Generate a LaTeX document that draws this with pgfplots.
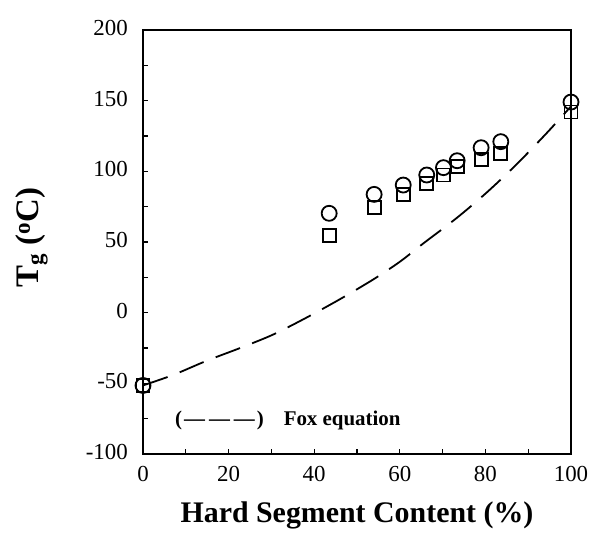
\documentclass[border=0pt]{standalone}
\usepackage{pgfplots}
\pgfplotsset{compat=1.18}
\usepackage{fontspec}
\setmainfont{Liberation Serif}
\begin{document}
\begin{tikzpicture}
\useasboundingbox (-143bp,-81bp) rectangle (447bp,454bp);
\begin{axis}[
  scale only axis, width=428bp, height=424bp,
  xmin=0, xmax=100, ymin=-100, ymax=200,
  axis line style={line width=1.6bp},
  xtick={0,20,...,100}, ytick={-100,-50,...,200},
  minor x tick num=1, minor y tick num=1,
  tick align=inside, xtick pos=bottom, ytick pos=left,
  major tick length=5bp, minor tick length=5bp,
  every tick/.style={black, line width=1.2bp},
  tick label style={font=\fontsize{23}{23}\selectfont},
  /pgf/number format/assume math mode=true,
  xticklabel style={anchor=base, yshift=-27bp},
  yticklabel style={anchor=east, inner sep=0pt, xshift=-15bp, yshift=2bp},
  xlabel={Hard Segment Content (\%)},
  xlabel style={font=\fontsize{30}{30}\selectfont\bfseries, at={(axis description cs:0.5,0)}, anchor=base, yshift=-68bp},
  ylabel={T\textsubscript{g} (\textsuperscript{o}C)},
  ylabel style={font=\fontsize{33}{33}\selectfont\bfseries, at={(axis description cs:-0.243,0.51)}, anchor=base},
  clip=false,
]
\addplot[black, line width=1.8bp, dash pattern=on 26bp off 13bp, smooth] coordinates {
  (0,-51.5) (7.1,-44) (14.9,-34) (22.7,-25) (30.4,-15.5) (38.2,-3.5) (46,9.5)
  (53.8,23.5) (60,36) (65.5,49) (73.3,67) (80.3,85) (87.3,105) (94.3,127) (100,146)
};
\addplot[only marks, mark=o, mark size=7.5bp, line width=1.8bp, black] coordinates {
  (0,-51.5) (43.5,70.3) (54,83.7) (60.8,90.3) (66.3,97.4) (70.2,102.6) (73.4,107.5) (79,116.7) (83.6,121) (100,149)
};
\addplot[only marks, mark=square, mark size=6.5bp, line width=1.8bp, black] coordinates {
  (0,-51.5) (43.5,54.7) (54,74.3) (60.8,83.7) (66.3,91.5) (70.2,97.4) (73.4,103.3) (79,108.5) (83.6,112.7) (100,142)
};
\node[anchor=base west, font=\fontsize{21}{21}\selectfont\bfseries] at (axis cs:6.7,-80) {(\kern2bp—\kern4bp—\kern4bp—\kern2bp)\hspace{0.95em}Fox equation};
\end{axis}
\end{tikzpicture}
\end{document}
